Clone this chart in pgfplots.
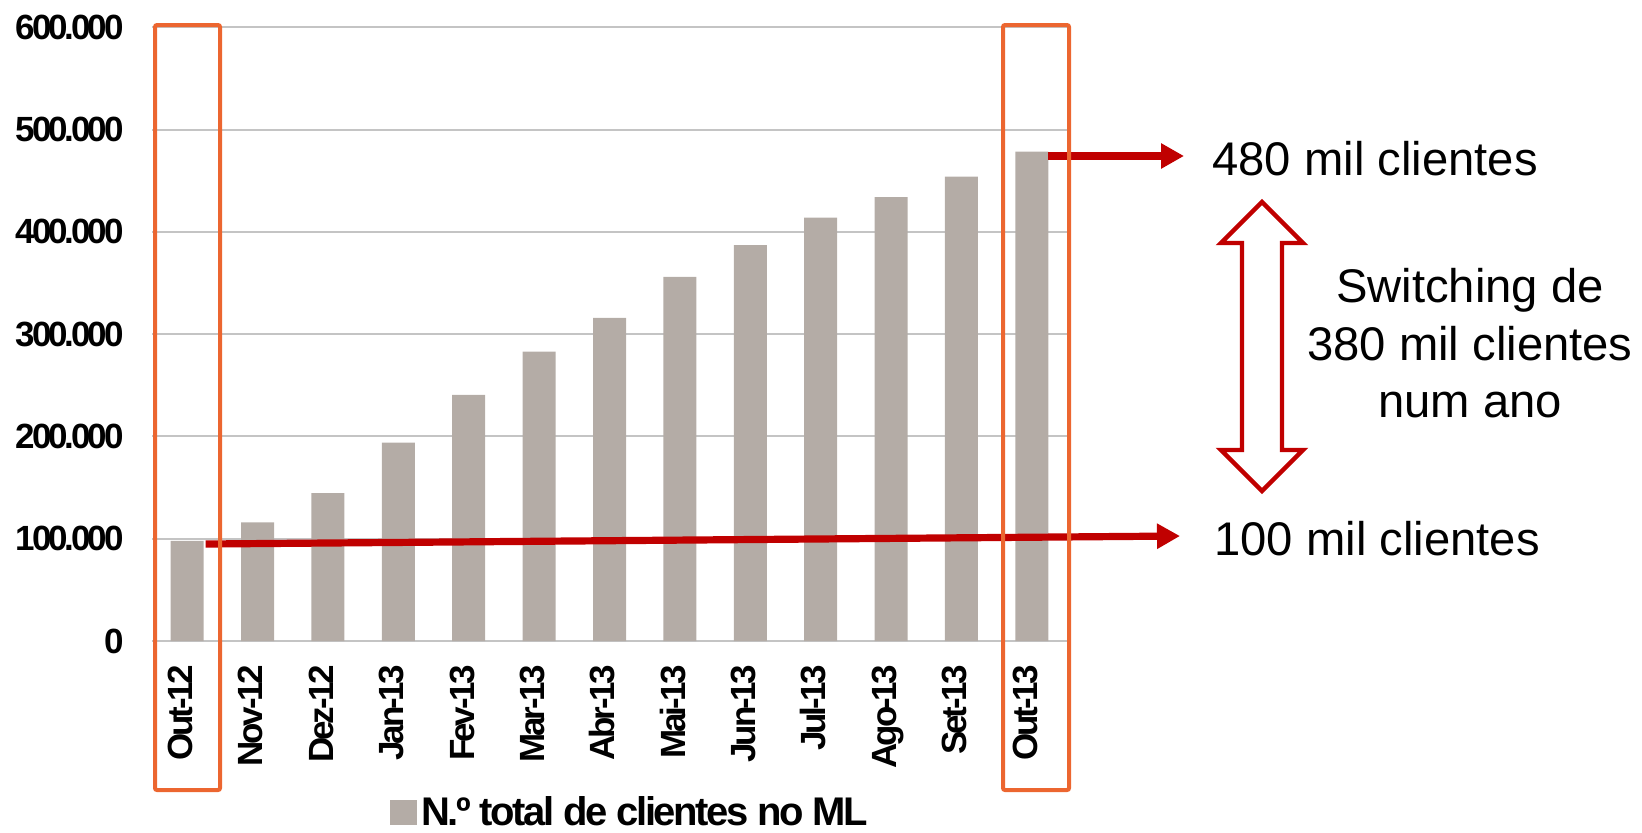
\documentclass[border=0pt]{standalone}
\usepackage{fontspec}
\setmainfont{Liberation Sans}
\newfontfamily\tightfont[LetterSpace=-9]{Liberation Sans}
\newfontfamily\legfont[LetterSpace=-6]{Liberation Sans}
\usepackage{pgfplots}
\pgfplotsset{compat=1.18}
\usetikzlibrary{arrows.meta}
\definecolor{barcol}{RGB}{180,172,166}
\definecolor{boxcol}{RGB}{236,102,48}
\definecolor{arrcol}{RGB}{192,0,0}
\definecolor{gridcol}{RGB}{196,196,196}
\begin{document}
\begin{tikzpicture}
\begin{scope}[x=0.5pt,y=-0.5pt]
\path[use as bounding box] (0,0) rectangle (1642,832);
\end{scope}
\begin{axis}[
  at={(76pt,-320.5pt)}, anchor=south west,
  scale only axis, width=457.5pt, height=306.9pt,
  xmin=-0.5, xmax=12.5, ymin=0, ymax=600000,
  clip=false,
  axis line style={draw=none},
  major tick length=0pt,
  ymajorgrids, grid style={gridcol, line width=1pt},
  xtick={0,...,12},
  xticklabels={Out-12,Nov-12,Dez-12,Jan-13,Fev-13,Mar-13,Abr-13,Mai-13,Jun-13,Jul-13,Ago-13,Set-13,Out-13},
  ytick={0,100000,200000,300000,400000,500000,600000},
  yticklabels={0,100.000,200.000,300.000,400.000,500.000,600.000},
  scaled y ticks=false,
  xticklabel style={rotate=90, anchor=mid east, inner sep=0pt, font=\tightfont\bfseries\fontsize{17.5}{17.5}\selectfont},
  xticklabel shift=12pt,
  yticklabel style={anchor=east, inner sep=0pt, font=\tightfont\bfseries\fontsize{17.5}{17.5}\selectfont},
  yticklabel shift=14pt,
  legend style={at={(0.2601,-0.2786)}, anchor=west, draw=none, fill=none, inner sep=0pt,
    font=\legfont\bfseries\fontsize{20}{20}\selectfont},
  legend cell align=left,
  legend image code/.code={\fill[barcol] (0pt,-6.25pt) rectangle (13.5pt,6.25pt);},
]
\addplot[ybar, bar width=16.5pt, fill=barcol, draw=none] coordinates {
  (0,98000) (1,116000) (2,144500) (3,194000) (4,240500) (5,283000) (6,316000)
  (7,356000) (8,387000) (9,414000) (10,434000) (11,454000) (12,478500)
};
\addlegendentry{N.º total de clientes no ML}
\end{axis}
\begin{scope}[x=0.5pt,y=-0.5pt]
\draw[arrcol, line width=3.6pt, -{Triangle[length=11.5pt,width=12pt]}] (205.7,544) -- (1180,536);
\draw[arrcol, line width=3.6pt, -{Triangle[length=11.5pt,width=12pt]}] (1048,156) -- (1184,156);
\draw[boxcol, line width=2pt, rounded corners=1pt] (155,25) rectangle (220,790);
\draw[boxcol, line width=2pt, rounded corners=1pt] (1003,25) rectangle (1069,790);
\draw[arrcol, line width=2.2pt, fill=white, line join=miter]
  (1262,202) -- (1303,243) -- (1282,243) -- (1282,450) -- (1303,450) -- (1262,491)
  -- (1221,450) -- (1242,450) -- (1242,243) -- (1221,243) -- cycle;
\begin{scope}[every node/.style={inner sep=0pt, font=\fontsize{23.6}{29}\selectfont}]
\node[anchor=base west] at (1212,175) {480 mil clientes};
\node[anchor=base west] at (1214,555) {100 mil clientes};
\node[anchor=base] at (1470,302) {Switching de};
\node[anchor=base] at (1470,360) {380 mil clientes};
\node[anchor=base] at (1470,417) {num ano};
\end{scope}
\end{scope}
\end{tikzpicture}
\end{document}
